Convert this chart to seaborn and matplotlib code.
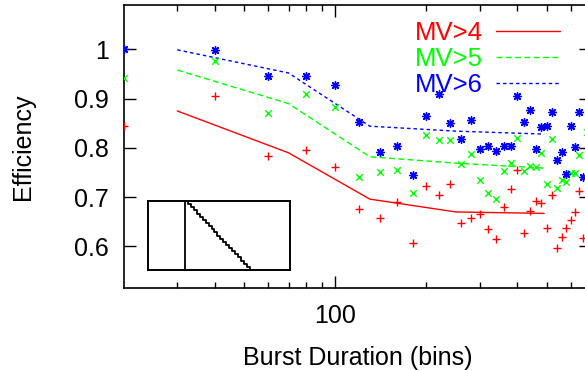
import numpy as np
import pandas as pd
import matplotlib
matplotlib.use("Agg")
import matplotlib.pyplot as plt
import seaborn as sns
from matplotlib.ticker import NullFormatter, NullLocator

# ---------------- data ----------------
burst_bins = [20, 40, 60, 80, 100, 120, 140, 160, 180, 200, 220, 240, 260, 280,
              300, 320, 340, 360, 380, 400, 420, 440, 460, 480, 500, 520, 540,
              560, 580, 600, 620, 640, 660, 680]
eff_mv4 = [0.845, 0.905, 0.784, 0.796, 0.762, 0.676, 0.658, 0.690, 0.606, 0.723,
           0.704, 0.726, 0.647, 0.658, 0.665, 0.636, 0.616, 0.681, 0.716, 0.755,
           0.628, 0.671, 0.692, 0.688, 0.637, 0.704, 0.596, 0.619, 0.637, 0.654,
           0.669, 0.712, 0.617, np.nan]
eff_mv5 = [0.941, 0.976, 0.871, 0.909, 0.882, 0.740, 0.751, 0.755, 0.708, 0.826,
           0.815, 0.817, 0.767, 0.787, 0.734, 0.708, 0.696, 0.753, 0.770, 0.820,
           0.753, 0.763, 0.762, 0.789, 0.727, 0.819, 0.718, 0.735, 0.731, 0.750,
           0.750, 0.786, np.nan, 0.833]
eff_mv6 = [1.000, 0.999, 0.945, 0.946, 0.928, 0.853, 0.792, 0.804, 0.744, 0.865,
           0.909, 0.850, 0.819, 0.856, 0.798, 0.804, 0.794, 0.804, 0.804, 0.905,
           0.853, 0.877, 0.798, 0.842, 0.845, 0.873, 0.775, 0.792, 0.747, 0.844,
           0.801, 0.873, 0.740, np.nan]

fit_bins = [30, 70, 130, 250, 490]
fit_mv4 = [0.875, 0.790, 0.696, 0.670, 0.667]
fit_mv5 = [0.958, 0.890, 0.782, 0.769, 0.759]
fit_mv6 = [0.999, 0.952, 0.844, 0.834, 0.828]

series_labels = ["MV>4", "MV>5", "MV>6"]
x_major_ticks = [100]
x_major_labels = ["100"]
x_minor_ticks = [30, 40, 50, 60, 70, 80, 90, 200, 300, 400, 500, 600]
y_ticks = [0.6, 0.7, 0.8, 0.9, 1.0]
y_tick_labels = ["0.6", "0.7", "0.8", "0.9", "1"]

# inset staircase
inset_x = [0, 1, 2, 3, 4, 5, 6, 7, 8, 9, 10, 11, 12, 13, 14, 15, 16, 17, 18, 19, 20, 21, 22]
inset_y = [22, 21, 20, 19, 18, 17, 16, 15, 14, 13, 12, 11, 10, 9, 8, 7, 6, 5, 4, 3, 2, 1, 0]

# ---------------- style ----------------
sns.set_theme(style="ticks")
plt.rcParams['font.family'] = ['Liberation Sans', 'DejaVu Sans']
plt.rcParams['axes.edgecolor'] = 'black'
plt.rcParams['xtick.color'] = 'black'
plt.rcParams['ytick.color'] = 'black'
plt.rcParams['text.color'] = 'black'
plt.rcParams['axes.labelcolor'] = 'black'

RED, GREEN, BLUE = '#ff0000', '#00ff00', '#0000ff'

fig = plt.figure(figsize=(5.85, 3.70), dpi=100)
fig.patch.set_facecolor('white')
ax = fig.add_axes([124 / 585, (370 - 288.3) / 370, (591 - 124) / 585, (288.3 - 5) / 370])
ax.set_facecolor('white')

df = pd.DataFrame({"bins": burst_bins, "mv4": eff_mv4, "mv5": eff_mv5, "mv6": eff_mv6})
fit = pd.DataFrame({"bins": fit_bins, "mv4": fit_mv4, "mv5": fit_mv5, "mv6": fit_mv6})

sns.scatterplot(data=df, x="bins", y="mv4", marker='+', color=RED, s=32,
                linewidth=1.0, ax=ax, legend=False, zorder=3)
sns.scatterplot(data=df, x="bins", y="mv5", marker='x', color=GREEN, s=22,
                linewidth=1.0, ax=ax, legend=False, zorder=3)
sns.scatterplot(data=df, x="bins", y="mv6", marker=(8, 2, 0), color=BLUE, s=32,
                linewidth=1.0, ax=ax, legend=False, zorder=3)

sns.lineplot(data=fit, x="bins", y="mv4", color=RED, linewidth=1.0, ax=ax,
             label=series_labels[0], sort=False, estimator=None)
sns.lineplot(data=fit, x="bins", y="mv5", color=GREEN, linewidth=1.0, ax=ax,
             label=series_labels[1], sort=False, estimator=None,
             linestyle=(0, (4.3, 2.4)))
sns.lineplot(data=fit, x="bins", y="mv6", color=BLUE, linewidth=1.0, ax=ax,
             label=series_labels[2], sort=False, estimator=None,
             linestyle=(0, (2.5, 2.2)))

ax.set_xscale('log')
ax.set_xlim(20, 700)
ax.set_ylim(0.515, 1.09)

ax.set_xticks(x_major_ticks, labels=x_major_labels)
ax.set_xticks(x_minor_ticks, minor=True)
ax.xaxis.set_minor_formatter(NullFormatter())
ax.set_yticks(y_ticks, labels=y_tick_labels)
ax.yaxis.set_minor_locator(NullLocator())

ax.tick_params(which='major', direction='in', length=8.6, width=1.0,
               top=True, right=True, labelsize=18)
ax.tick_params(which='minor', direction='in', length=4.3, width=1.0,
               top=True, right=True)
ax.tick_params(axis='x', which='major', pad=11)
ax.tick_params(axis='y', which='major', pad=11)
for sp in ax.spines.values():
    sp.set_visible(True)
    sp.set_linewidth(1.2)
    sp.set_color('black')

ax.set_xlabel("Burst Duration (bins)", fontsize=18, labelpad=13)
ax.set_ylabel("Efficiency", fontsize=18, labelpad=28)

handles, labels = ax.get_legend_handles_labels()
leg = ax.legend(handles, labels, loc='upper right',
                bbox_to_anchor=(560 / 585, (370 - 21) / 370),
                bbox_transform=fig.transFigure, markerfirst=False, frameon=False,
                fontsize=18.5, handlelength=2.5, handletextpad=0.5,
                labelspacing=0.08, borderpad=0, borderaxespad=0,
                labelcolor='linecolor')

# inset
ins = fig.add_axes([147.7 / 585, (370 - 270) / 370, (290 - 147.7) / 585, 69 / 370])
ins.set_facecolor('white')
sns.lineplot(x=inset_x, y=inset_y, color='black', linewidth=1.3,
             drawstyle='steps-post', ax=ins, estimator=None, sort=False)
ins.axvline(0, color='black', linewidth=1.3)
ins.set_xlim(-12.8, 35.8)
ins.set_ylim(0, 22)
ins.set_xticks([])
ins.set_yticks([])
for sp in ins.spines.values():
    sp.set_visible(True)
    sp.set_linewidth(1.4)
    sp.set_color('black')

fig.savefig("out.png", dpi=100)
